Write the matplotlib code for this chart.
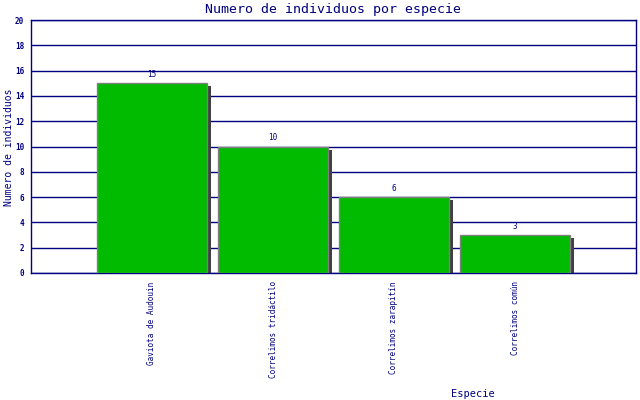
import matplotlib
matplotlib.use("Agg")
import matplotlib.pyplot as plt

# Data
especies = ["Gaviota de Audouin", "Correlimos tridáctilo",
            "Correlimos zarapitín", "Correlimos común"]
individuos = [15, 10, 6, 3]
y_ticks = [0, 2, 4, 6, 8, 10, 12, 14, 16, 18, 20]

NAVY = "#000080"
GREEN = "#00bb00"
SHADOW = "#404040"
FONT = "DejaVu Sans Mono"

fig = plt.figure(figsize=(6.4, 4.0), dpi=100)
ax = fig.add_axes([31 / 640, 1 - 273 / 400, 605 / 640, 253 / 400])

x = list(range(len(especies)))
width = 0.917

# shadow offset (~4 px right, ~3 px down)
dx = 4 / 121
dy = 3 * 20 / 253
ax.bar([xi + dx for xi in x], [v - dy for v in individuos], width=width,
       color=SHADOW, linewidth=0, zorder=2)
ax.bar(x, individuos, width=width, color=GREEN, edgecolor="#808080",
       linewidth=1.0, zorder=3)

for xi, v in zip(x, individuos):
    ax.text(xi, v + 0.35, str(v), ha="center", va="bottom", fontsize=5.5,
            color=NAVY, family=FONT, zorder=4)

ax.set_xlim(-1, 4)
ax.set_ylim(0, 20)
ax.set_yticks(y_ticks)
ax.set_yticklabels([str(t) for t in y_ticks], fontsize=5.5, color=NAVY,
                   family=FONT, fontweight="bold")
ax.set_xticks(x)
ax.set_xticklabels(especies, rotation=90, fontsize=5.5, color=NAVY,
                   family=FONT, va="top")
ax.tick_params(axis="both", length=0, pad=5)
ax.tick_params(axis="x", pad=6)

ax.grid(axis="y", color=NAVY, linewidth=1.0, zorder=1)
ax.set_axisbelow(True)
for s in ax.spines.values():
    s.set_color(NAVY)
    s.set_linewidth(1.0)

fig.text(333 / 640, 1 - 9 / 400, "Numero de individuos por especie",
         ha="center", va="center", fontsize=9.5, color=NAVY, family=FONT)
fig.text(9 / 640, 1 - 147 / 400, "Numero de individuos", rotation=90,
         ha="center", va="center", fontsize=7, color=NAVY, family=FONT)
fig.text(473 / 640, 1 - 394 / 400, "Especie", ha="center", va="center",
         fontsize=7.5, color=NAVY, family=FONT)

fig.savefig("out.png", dpi=100)
